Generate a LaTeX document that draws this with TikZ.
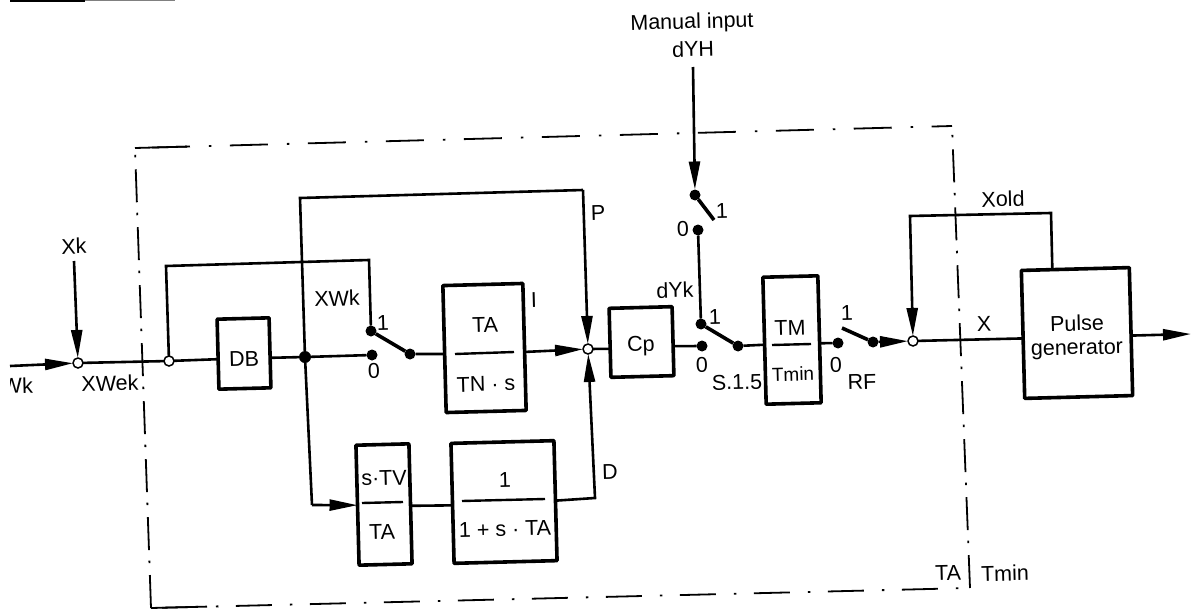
\documentclass[tikz,border=0pt]{standalone}
\usepackage{fontspec}
\setmainfont{Liberation Sans}
\usetikzlibrary{arrows.meta}
\tikzset{
  x=1pt,y=-1pt,
  block/.style={draw,line width=3.6pt,rotate=1.5,inner sep=0pt,outer sep=0pt,line join=round},
  sumpt/.style={circle,draw,fill=white,line width=1.5pt,minimum size=10pt,inner sep=0pt,outer sep=0pt},
  contact/.style={circle,fill=black,minimum size=11pt,inner sep=0pt,outer sep=0pt},
  jointpt/.style={circle,fill=black,minimum size=12pt,inner sep=0pt,outer sep=0pt},
  lbl/.style={font=\fontsize{21.5}{24}\selectfont,inner sep=0pt,rotate=1.5},
  smalllbl/.style={font=\fontsize{19}{21}\selectfont,inner sep=0pt,rotate=1.5},
  conn/.style={line width=2.6pt,line join=miter},
  arrowed/.style={conn,-{Triangle[length=28pt,width=11pt]}},
  blade/.style={line width=3.6pt},
  fracbar/.style={line width=2.4pt},
  framesolid/.style={line width=1.8pt},
  frametop/.style={line width=1.8pt,dash pattern=on 38pt off 19pt on 2.5pt off 18.5pt,dash phase=61pt},
  framebottom/.style={line width=1.8pt,dash pattern=on 36pt off 18pt on 2.5pt off 17.5pt,dash phase=63pt},
  framevert/.style={line width=1.8pt,dash pattern=on 33pt off 12pt on 2.5pt off 10.5pt},
}
\begin{document}
\begin{tikzpicture}
\useasboundingbox (0,0) rectangle (1191,610);
% frame
\coordinate (ftl) at (135,148);
\coordinate (ftr) at (952,126);
\coordinate (fbr) at (970,588);
\coordinate (fbl) at (151,608);
\draw[frametop] (ftl) -- (ftr);
\draw[framesolid] (ftl) -- ++(52,-1.4);
\draw[framebottom] (fbl) -- (fbr);
\draw[framesolid] (fbl) -- ++(56,-1.4);
\draw[framevert] (fbl) -- (ftl);
\draw[framevert] (fbr) -- (ftr);
% scan remnant at the top edge
\draw[line width=2pt] (10,1) -- (85,1);
\draw[line width=1pt,gray] (85,1) -- (175,1);

% blocks
\node[block,minimum width=52pt,minimum height=70pt] (db) at (244,353.5) {};
\node[block,minimum width=80pt,minimum height=127pt] (ta) at (484.5,348) {};
\node[block,minimum width=63pt,minimum height=69pt] (cp) at (641.5,342) {};
\node[block,minimum width=55pt,minimum height=127pt] (tm) at (792,340) {};
\node[block,minimum width=108pt,minimum height=128pt] (pulse) at (1077,333) {};
\node[block,minimum width=53pt,minimum height=120pt] (stv) at (384,504.5) {};
\node[block,minimum width=103pt,minimum height=120pt] (one) at (504,502) {};

% points
\coordinate (wkstart) at (10,366);
\coordinate (xktop) at (74,261);
\coordinate (xkcorner) at (166,266);
\coordinate (xkright) at (369,260);
\coordinate (ptopl) at (300,198);
\coordinate (ptopr) at (583,190);
\coordinate (dcorner) at (312,505);
\coordinate (dright) at (595,498);
\coordinate (manual) at (693,67);
\coordinate (xoldl) at (910,216);
\coordinate (xoldr) at (1051,213);
\coordinate (outend) at (1191,334);

\node[sumpt] (sa) at (78,363) {};
\node[sumpt] (sb) at (169,361) {};
\node[sumpt] (sc) at (588,349) {};
\node[sumpt] (sd) at (913,341) {};
\node[jointpt] (j) at (305,357) {};
\node[contact] (k1a) at (371,331) {};
\node[contact] (k0a) at (372,355) {};
\node[contact] (kba) at (410,354) {};
\node[contact] (k0b) at (702,346) {};
\node[contact] (k1b) at (701,324) {};
\node[contact] (kbb) at (738,346) {};
\node[contact] (k0c) at (698,230) {};
\node[contact] (kpc) at (695,195) {};
\coordinate (kbc) at (714,220);
\node[contact] (k0d) at (838,343) {};
\coordinate (k1d) at (842,328);
\node[contact] (kbd) at (873,342) {};

% connectors
\draw[arrowed] (wkstart) -- (sa);
\draw[arrowed] (xktop) -- (sa);
\draw[conn] (sa) -- (sb);
\draw[conn] (sb) -- ([yshift=-5pt]db.west);
\draw[conn] (sb) -- (xkcorner) -- (xkright) -- (k1a);
\draw[conn] ([yshift=-5pt]db.east) -- (j);
\draw[conn] (j) -- (k0a);
\draw[conn] (j) -- (ptopl) -- (ptopr);
\draw[arrowed] (ptopr) -- (sc);
\draw[blade] (k1a) -- (kba);
\draw[conn] (kba) -- ([yshift=-5pt]ta.west);
\draw[arrowed] ([yshift=-5pt]ta.east) -- (sc);
\draw[conn] (sc) -- ([yshift=-6pt]cp.west);
\draw[conn] ([yshift=-5pt]cp.east) -- (k0b);
\draw[blade] (k1b) -- (kbb);
\draw[conn] (kbb) -- ([yshift=-4pt]tm.west);
\draw[conn] ([yshift=-4pt]tm.east) -- (k0d);
\draw[conn] (k1b) -- (k0c);
\draw[arrowed] (manual) -- (kpc);
\draw[blade] (kpc) -- (kbc);
\draw[blade] (k1d) -- (kbd);
\draw[arrowed] (kbd) -- (sd);
\draw[conn] (sd) -- ([yshift=-4pt]pulse.west);
\draw[arrowed] ([yshift=-4pt]pulse.east) -- (outend);
\draw[arrowed] ([xshift=-23pt]pulse.north) -- (xoldr) -- (xoldl) -- (sd);
\draw[conn] (j) -- (dcorner);
\draw[arrowed] (dcorner) -- (stv.west);
\draw[conn] ([yshift=-2pt]stv.east) -- ([yshift=-2pt]one.west);
\draw[arrowed] (one.east) -- (dright) -- (sc);

% fraction bars
\draw[fracbar] (455,354) -- (514,352);
\draw[fracbar] (772,345) -- (811,344);
\draw[fracbar] (362,503) -- (403,502);
\draw[fracbar] (462,501) -- (545,499);

% block texts
\node[lbl] (tdb) at (244,359) {DB};
\node[lbl] (tta) at (485,325) {TA};
\node[lbl] (ttn) at (486,384) {TN · s};
\node[lbl] (tcp) at (641,346) {Cp};
\node[lbl] (ttm) at (790,328) {TM};
\node[smalllbl] (ttmin) at (793,374) {Tmin};
\node[lbl] (tp1) at (1077,323) {Pulse};
\node[lbl] (tp2) at (1077,350) {generator};
\node[lbl] (tstv) at (384,478) {s·TV};
\node[lbl] (tsta) at (382,532) {TA};
\node[lbl] (t1) at (505,480) {1};
\node[lbl] (t1sta) at (505,529) {1 + s · TA};

% labels
\node[lbl,anchor=east] (lwk) at (33,385) {Wk};
\fill[white] (0,372) rectangle (10,398);
\node[lbl] (lxk) at (74,246) {Xk};
\node[lbl] (lxwek) at (110,383) {XWek};
\node[lbl] (lxwk) at (337,298) {XWk};
\node[lbl] (l1a) at (383,323) {1};
\node[lbl] (l0a) at (374,371) {0};
\node[lbl] (li) at (534,300) {I};
\node[lbl] (lp) at (598,213) {P};
\node[lbl] (ldyk) at (675,290) {dYk};
\node[lbl] (l1b) at (715,317) {1};
\node[lbl] (l0b) at (702,365) {0};
\node[lbl] (ls) at (737,382) {S.1.5};
\node[lbl] (l0c) at (683,229) {0};
\node[lbl] (l1c) at (722,211) {1};
\node[lbl] (l1d) at (847,313) {1};
\node[lbl] (l0d) at (836,365) {0};
\node[lbl] (lrf) at (862,382) {RF};
\node[lbl] (lx) at (984,324) {X};
\node[lbl] (lxold) at (1003,199) {Xold};
\node[lbl] (ld) at (610,472) {D};
\node[lbl] (lta) at (948,573) {TA};
\node[lbl] (ltmin) at (1005,573) {Tmin};
\node[lbl] (lman) at (692,23) {Manual input};
\node[lbl] (ldyh) at (693,49) {dYH};
\end{tikzpicture}
\end{document}
